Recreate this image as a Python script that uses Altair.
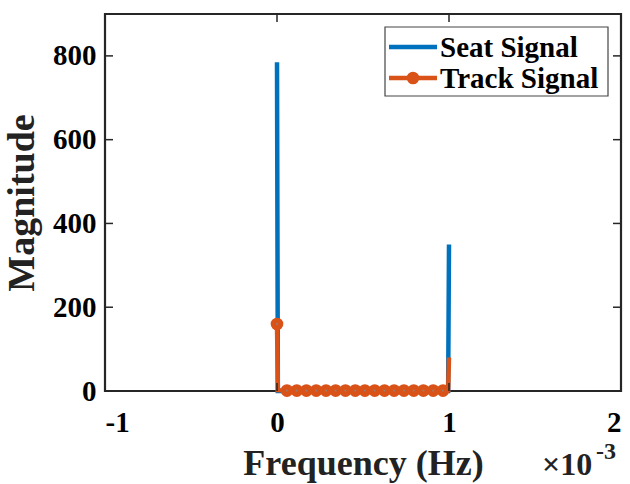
import altair as alt
import pandas as pd

# Spectrum values (frequency axis in units of 1e-3 Hz)
seat_freq = [0.0, 0.005, 0.995, 1.0]
seat_mag = [785, 0, 0, 350]

track_freq = [0.0, 0.005, 0.058, 0.115, 0.171, 0.228, 0.285, 0.341, 0.398, 0.455,
              0.511, 0.568, 0.625, 0.681, 0.738, 0.795, 0.851, 0.908, 0.965, 0.995, 1.0]
track_mag = [160, 2, 1, 1, 1, 1, 1, 1, 1, 1,
             1, 1, 1, 1, 1, 1, 1, 1, 1, 2, 80]
track_marker = [True, False] + [True] * 17 + [False, False]

x_ticks = [-1, 0, 1, 2]
y_ticks = [0, 200, 400, 600, 800]

BLUE = "#0072BD"
ORANGE = "#D95319"
AXIS = "#262626"
FONT = "Liberation Serif"
W, H = 516, 377
TICK = 8
MSIZE = 160

seat = pd.DataFrame({"freq": seat_freq, "mag": seat_mag})
track = pd.DataFrame({"freq": track_freq, "mag": track_mag, "marker": track_marker})
xt = pd.DataFrame({"v": x_ticks})
yt = pd.DataFrame({"v": y_ticks})
one = pd.DataFrame({"k": [0]})

xscale = alt.Scale(domain=[-1, 2], nice=False, zero=False)
yscale = alt.Scale(domain=[0, 900], nice=False)

x_enc = alt.X("freq:Q", scale=xscale, title="Frequency (Hz)",
              axis=alt.Axis(values=x_ticks, labelExpr="'' + datum.value", tickSize=0,
                            domain=False, grid=False,
                            labelFontSize=29, labelPadding=17, labelColor="#000",
                            titleFontSize=36, titlePadding=9, titleColor="#222"))
y_enc = alt.Y("mag:Q", scale=yscale, title="Magnitude",
              axis=alt.Axis(values=y_ticks, labelExpr="'' + datum.value", tickSize=0,
                            domain=False, grid=False,
                            labelFontSize=29, labelPadding=9, labelColor="#000",
                            titleFontSize=38, titlePadding=11, titleColor="#222"))

seat_line = alt.Chart(seat).mark_line(color=BLUE, strokeWidth=4.5).encode(x=x_enc, y=y_enc)
track_line = alt.Chart(track).mark_line(color=ORANGE, strokeWidth=4.5).encode(
    x=alt.X("freq:Q", scale=xscale), y=alt.Y("mag:Q", scale=yscale))
track_pts = alt.Chart(track).transform_filter("datum.marker").mark_point(
    filled=True, color=ORANGE, size=MSIZE, opacity=1).encode(
    x=alt.X("freq:Q", scale=xscale), y=alt.Y("mag:Q", scale=yscale))
track_dots = alt.Chart(track).transform_filter("datum.marker").mark_point(
    filled=True, color="#9a7a6a", size=5, opacity=1).encode(
    x=alt.X("freq:Q", scale=xscale), y=alt.Y("mag:Q", scale=yscale))

# inward ticks on all four sides of the box
tick_style = dict(color=AXIS, strokeWidth=1.5)
yl = alt.Chart(yt).mark_rule(**tick_style).encode(
    y=alt.Y("v:Q", scale=yscale), x=alt.value(0), x2=alt.value(TICK))
yr = alt.Chart(yt).mark_rule(**tick_style).encode(
    y=alt.Y("v:Q", scale=yscale), x=alt.value(W - TICK), x2=alt.value(W))
xb = alt.Chart(xt).mark_rule(**tick_style).encode(
    x=alt.X("v:Q", scale=xscale), y=alt.value(H), y2=alt.value(H - TICK))
xtop = alt.Chart(xt).mark_rule(**tick_style).encode(
    x=alt.X("v:Q", scale=xscale), y=alt.value(0), y2=alt.value(TICK))

# legend box
leg_box = alt.Chart(one).mark_rect(fill="white", stroke="#444", strokeWidth=1.2).encode(
    x=alt.value(280), x2=alt.value(503), y=alt.value(13), y2=alt.value(82))
leg_blue = alt.Chart(one).mark_rule(color=BLUE, strokeWidth=4.5).encode(
    x=alt.value(284), x2=alt.value(332), y=alt.value(33))
leg_orange = alt.Chart(one).mark_rule(color=ORANGE, strokeWidth=4.5).encode(
    x=alt.value(284), x2=alt.value(332), y=alt.value(64))
leg_pt = alt.Chart(one).mark_point(filled=True, color=ORANGE, size=MSIZE, opacity=1).encode(
    x=alt.value(308), y=alt.value(64))
leg_txt1 = alt.Chart(one).mark_text(align="left", baseline="middle", font=FONT,
                                    fontWeight="bold", fontSize=29, color="#000").encode(
    x=alt.value(335), y=alt.value(34), text=alt.value("Seat Signal"))
leg_txt2 = alt.Chart(one).mark_text(align="left", baseline="middle", font=FONT,
                                    fontWeight="bold", fontSize=29, color="#000").encode(
    x=alt.value(335), y=alt.value(65), text=alt.value("Track Signal"))

# axis exponent
exp_base = alt.Chart(one).mark_text(align="left", baseline="alphabetic", font=FONT,
                                    fontWeight="bold", fontSize=32, color="#222").encode(
    x=alt.value(437), y=alt.value(84 + H), text=alt.value("×10"))
exp_pow = alt.Chart(one).mark_text(align="left", baseline="alphabetic", font=FONT,
                                   fontWeight="bold", fontSize=24, color="#222").encode(
    x=alt.value(491), y=alt.value(68 + H), text=alt.value("-3"))

chart = alt.layer(
    seat_line, track_line, track_pts, track_dots,
    yl, yr, xb, xtop,
    leg_box, leg_blue, leg_orange, leg_pt, leg_txt1, leg_txt2,
    exp_base, exp_pow,
).properties(
    width=W, height=H,
    autosize=alt.AutoSizeParams(type="none"),
    padding={"left": 105, "top": 14, "right": 9, "bottom": 93},
    background="white",
).configure_view(
    stroke=AXIS, strokeWidth=2.2
).configure_axis(
    labelFont=FONT, titleFont=FONT, labelFontWeight="bold", titleFontWeight="bold"
)

chart.save("out.html", embed_options={"renderer": "svg", "actions": False})
